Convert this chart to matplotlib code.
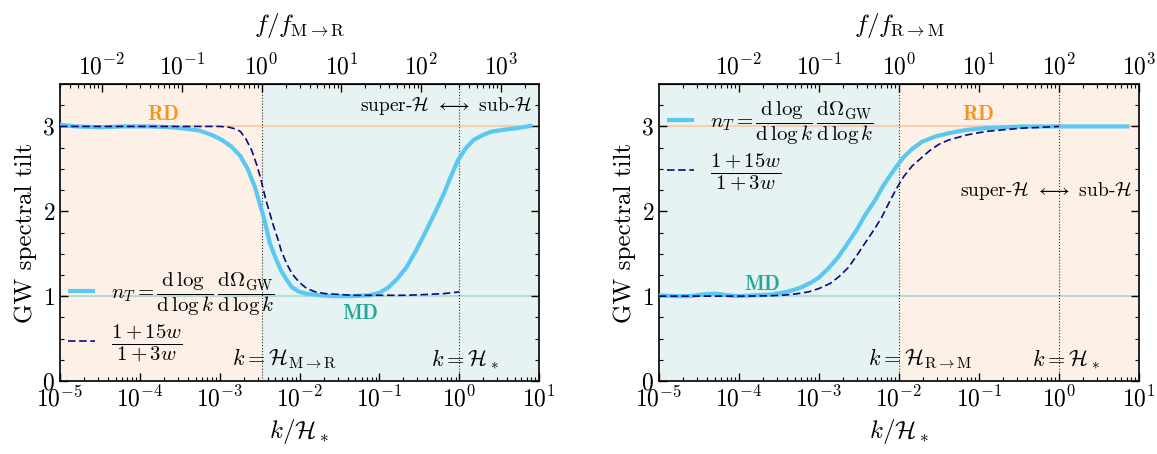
import numpy as np
import matplotlib
matplotlib.use("Agg")
import matplotlib.pyplot as plt
from matplotlib.ticker import LogLocator

plt.rcParams['font.family'] = 'serif'
plt.rcParams['font.serif'] = ['cmr10', 'DejaVu Serif']
plt.rcParams['mathtext.fontset'] = 'cm'
plt.rcParams['axes.formatter.use_mathtext'] = True
plt.rcParams['axes.unicode_minus'] = False

# left panel: RD -> MD -> RD (log10 k, tilt)
left_solid_logk = [-5.0, -4.8, -4.5, -4.2, -3.9, -3.6, -3.4, -3.25, -3.1, -2.97, -2.85, -2.74,
                   -2.65, -2.56, -2.51, -2.46, -2.41, -2.37, -2.30, -2.23, -2.16, -2.09, -2.0,
                   -1.91, -1.75, -1.58, -1.35, -1.12, -1.0, -0.89, -0.78, -0.66, -0.55, -0.43,
                   -0.31, -0.19, -0.1, -0.01, 0.08, 0.18, 0.3, 0.41, 0.55, 0.73, 0.92]
left_solid_tilt = [3.02, 3.0, 2.99, 3.0, 3.0, 2.99, 2.97, 2.95, 2.9, 2.84, 2.76, 2.65,
                   2.5, 2.29, 2.13, 1.97, 1.78, 1.62, 1.45, 1.30, 1.19, 1.10, 1.05,
                   1.03, 1.01, 1.0, 1.0, 1.01, 1.04, 1.10, 1.2, 1.34, 1.52, 1.74,
                   1.97, 2.21, 2.42, 2.61, 2.74, 2.84, 2.9, 2.94, 2.96, 2.98, 3.01]
left_dash_logk = [-5.0, -3.0, -2.88, -2.8, -2.74, -2.67, -2.60, -2.54, -2.49, -2.42, -2.37,
                  -2.32, -2.27, -2.23, -2.16, -2.09, -2.0, -1.91, -1.8, -1.68, -1.5, -1.35,
                  -1.0, -0.66, -0.4, -0.19, 0.0]
left_dash_tilt = [3.0, 3.0, 2.99, 2.97, 2.94, 2.85, 2.72, 2.56, 2.40, 2.13, 1.97,
                  1.81, 1.67, 1.54, 1.38, 1.26, 1.16, 1.09, 1.05, 1.03, 1.02, 1.01,
                  1.01, 1.01, 1.02, 1.03, 1.05]

# right panel: MD -> RD
right_solid_logk = [-5.0, -4.8, -4.61, -4.45, -4.29, -4.15, -4.01, -3.8, -3.59, -3.4, -3.23,
                    -3.1, -3.0, -2.88, -2.76, -2.65, -2.53, -2.42, -2.30, -2.21, -2.12, -2.03,
                    -1.94, -1.83, -1.71, -1.55, -1.38, -1.15, -0.92, -0.46, 0.88]
right_solid_tilt = [1.01, 1.0, 1.0, 1.02, 1.03, 1.01, 1.0, 1.01, 1.02, 1.05, 1.10,
                    1.16, 1.22, 1.33, 1.46, 1.61, 1.78, 1.96, 2.13, 2.28, 2.41, 2.53,
                    2.64, 2.74, 2.82, 2.88, 2.92, 2.96, 2.98, 3.0, 3.0]
right_dash_logk = [-5.0, -3.92, -3.6, -3.46, -3.3, -3.13, -3.0, -2.86, -2.75, -2.63, -2.52,
                   -2.40, -2.30, -2.21, -2.12, -2.03, -1.94, -1.84, -1.72, -1.61, -1.5, -1.38,
                   -1.15, -0.92, -0.7, -0.46, -0.2, 0.0]
right_dash_tilt = [1.0, 1.0, 1.005, 1.01, 1.025, 1.05, 1.09, 1.15, 1.23, 1.34, 1.49,
                   1.66, 1.80, 1.94, 2.11, 2.27, 2.41, 2.53, 2.63, 2.72, 2.79, 2.84,
                   2.9, 2.94, 2.96, 2.98, 2.99, 3.0]

bottom_ticks = [1e-5, 1e-4, 1e-3, 1e-2, 1e-1, 1e0, 1e1]
top_ticks = [1e-2, 1e-1, 1e0, 1e1, 1e2, 1e3]

k_MR = 10**-2.475
k_RM = 1e-2

c_solid = '#5ac8f0'
c_dash = '#0a0a80'
c_rd = '#f7941d'
c_md = '#26a69a'
bg_rd = '#fdf0e6'
bg_md = '#e6f3f2'

nT_label = (r'$n_T = \dfrac{\mathrm{d}\,\log}{\mathrm{d}\,\log k}\,'
            r'\dfrac{\mathrm{d}\Omega_{\rm GW}}{\mathrm{d}\,\log k}$')
w_label = r'$\dfrac{1+15w}{1+3w}$'
hor_label = r'super-$\mathcal{H}$ $\longleftrightarrow$ sub-$\mathcal{H}$'

fig = plt.figure(figsize=(11.57, 4.54), dpi=100)
W, H = 1157, 454
ax1 = fig.add_axes([60 / W, (H - 381) / H, 479 / W, 297 / H])
ax2 = fig.add_axes([659 / W, (H - 381) / H, 480 / W, 297 / H])


def style(ax, kt, toplabel):
    ax.set_xscale('log')
    ax.set_xlim(1e-5, 1e1)
    ax.set_ylim(0, 3.5)
    ax.set_xticks(bottom_ticks)
    ax.xaxis.set_minor_locator(LogLocator(base=10, subs=np.arange(2, 10), numticks=50))
    ax.set_yticks([0, 1, 2, 3])
    ax.set_yticks(np.arange(0, 3.51, 0.25), minor=True)
    ax.tick_params(which='both', direction='in', left=True, right=True, top=False,
                   labelsize=17)
    ax.tick_params(which='major', length=6, width=1)
    ax.tick_params(which='minor', length=3, width=0.8)
    ax.set_xlabel(r'$k/\mathcal{H}_*$', fontsize=18, labelpad=4)
    ax.set_ylabel('GW spectral tilt', fontsize=18, labelpad=4)
    for s in ax.spines.values():
        s.set_linewidth(1.2)
    sec = ax.secondary_xaxis('top', functions=(lambda k: k / kt, lambda f: f * kt))
    sec.set_xticks(top_ticks)
    sec.xaxis.set_minor_locator(LogLocator(base=10, subs=np.arange(2, 10), numticks=50))
    sec.tick_params(which='both', direction='in', labelsize=17)
    sec.tick_params(which='major', length=6, width=1)
    sec.tick_params(which='minor', length=3, width=0.8)
    sec.set_xlabel(toplabel, fontsize=18, labelpad=16)
    ax.axvline(kt, color='k', ls=':', lw=0.8, alpha=0.8)
    ax.axvline(1.0, color='k', ls=':', lw=0.8, alpha=0.8)
    ax.axhline(3, color='#f5cfae', lw=1.5, zorder=1)
    ax.axhline(1, color='#b5dcd8', lw=1.5, zorder=1)


# left panel
ax1.axvspan(1e-5, k_MR, color=bg_rd, lw=0, zorder=0)
ax1.axvspan(k_MR, 1e1, color=bg_md, lw=0, zorder=0)
style(ax1, k_MR, r'$f/f_{\rm M\to R}$')
ax1.plot(10**np.array(left_solid_logk), left_solid_tilt, color=c_solid, lw=3,
         solid_capstyle='butt', solid_joinstyle='round', label=nT_label, zorder=3)
ax1.plot(10**np.array(left_dash_logk), left_dash_tilt, color=c_dash, lw=1.2,
         ls=(0, (4.5, 2.2)), label=w_label, zorder=4)
ax1.text(10**-3.71, 3.14, r'$\mathbf{RD}$', color=c_rd, fontsize=15,
         ha='center', va='center')
ax1.text(10**-1.24, 0.80, r'$\mathbf{MD}$', color=c_md, fontsize=15,
         ha='center', va='center')
ax1.text(0.985, 0.925, hor_label, transform=ax1.transAxes, ha='right', va='center',
         fontsize=14)
ax1.text(10**-2.19, 0.26, r'$k=\mathcal{H}_{\rm M\to R}$', ha='center', va='center',
         fontsize=16)
ax1.text(10**0.07, 0.26, r'$k=\mathcal{H}_*$', ha='center', va='center', fontsize=16)
ax1.legend(loc='center left', bbox_to_anchor=(-0.01, 0.215), frameon=False,
           fontsize=15, handlelength=1.3, labelspacing=0.25, borderaxespad=0.2)

# right panel
ax2.axvspan(1e-5, k_RM, color=bg_md, lw=0, zorder=0)
ax2.axvspan(k_RM, 1e1, color=bg_rd, lw=0, zorder=0)
style(ax2, k_RM, r'$f/f_{\rm R\to M}$')
ax2.plot(10**np.array(right_solid_logk), right_solid_tilt, color=c_solid, lw=3,
         solid_capstyle='butt', solid_joinstyle='round', label=nT_label, zorder=3)
ax2.plot(10**np.array(right_dash_logk), right_dash_tilt, color=c_dash, lw=1.2,
         ls=(0, (4.5, 2.2)), label=w_label, zorder=4)
ax2.text(10**-1.01, 3.14, r'$\mathbf{RD}$', color=c_rd, fontsize=15,
         ha='center', va='center')
ax2.text(10**-3.71, 1.14, r'$\mathbf{MD}$', color=c_md, fontsize=15,
         ha='center', va='center')
ax2.text(0.985, 0.64, hor_label, transform=ax2.transAxes, ha='right', va='center',
         fontsize=14)
ax2.text(10**-1.73, 0.26, r'$k=\mathcal{H}_{\rm R\to M}$', ha='center', va='center',
         fontsize=16)
ax2.text(10**0.09, 0.26, r'$k=\mathcal{H}_*$', ha='center', va='center', fontsize=16)
ax2.legend(loc='center left', bbox_to_anchor=(-0.01, 0.79), frameon=False,
           fontsize=15, handlelength=1.3, labelspacing=0.25, borderaxespad=0.2)

fig.savefig('out.png', dpi=100)
